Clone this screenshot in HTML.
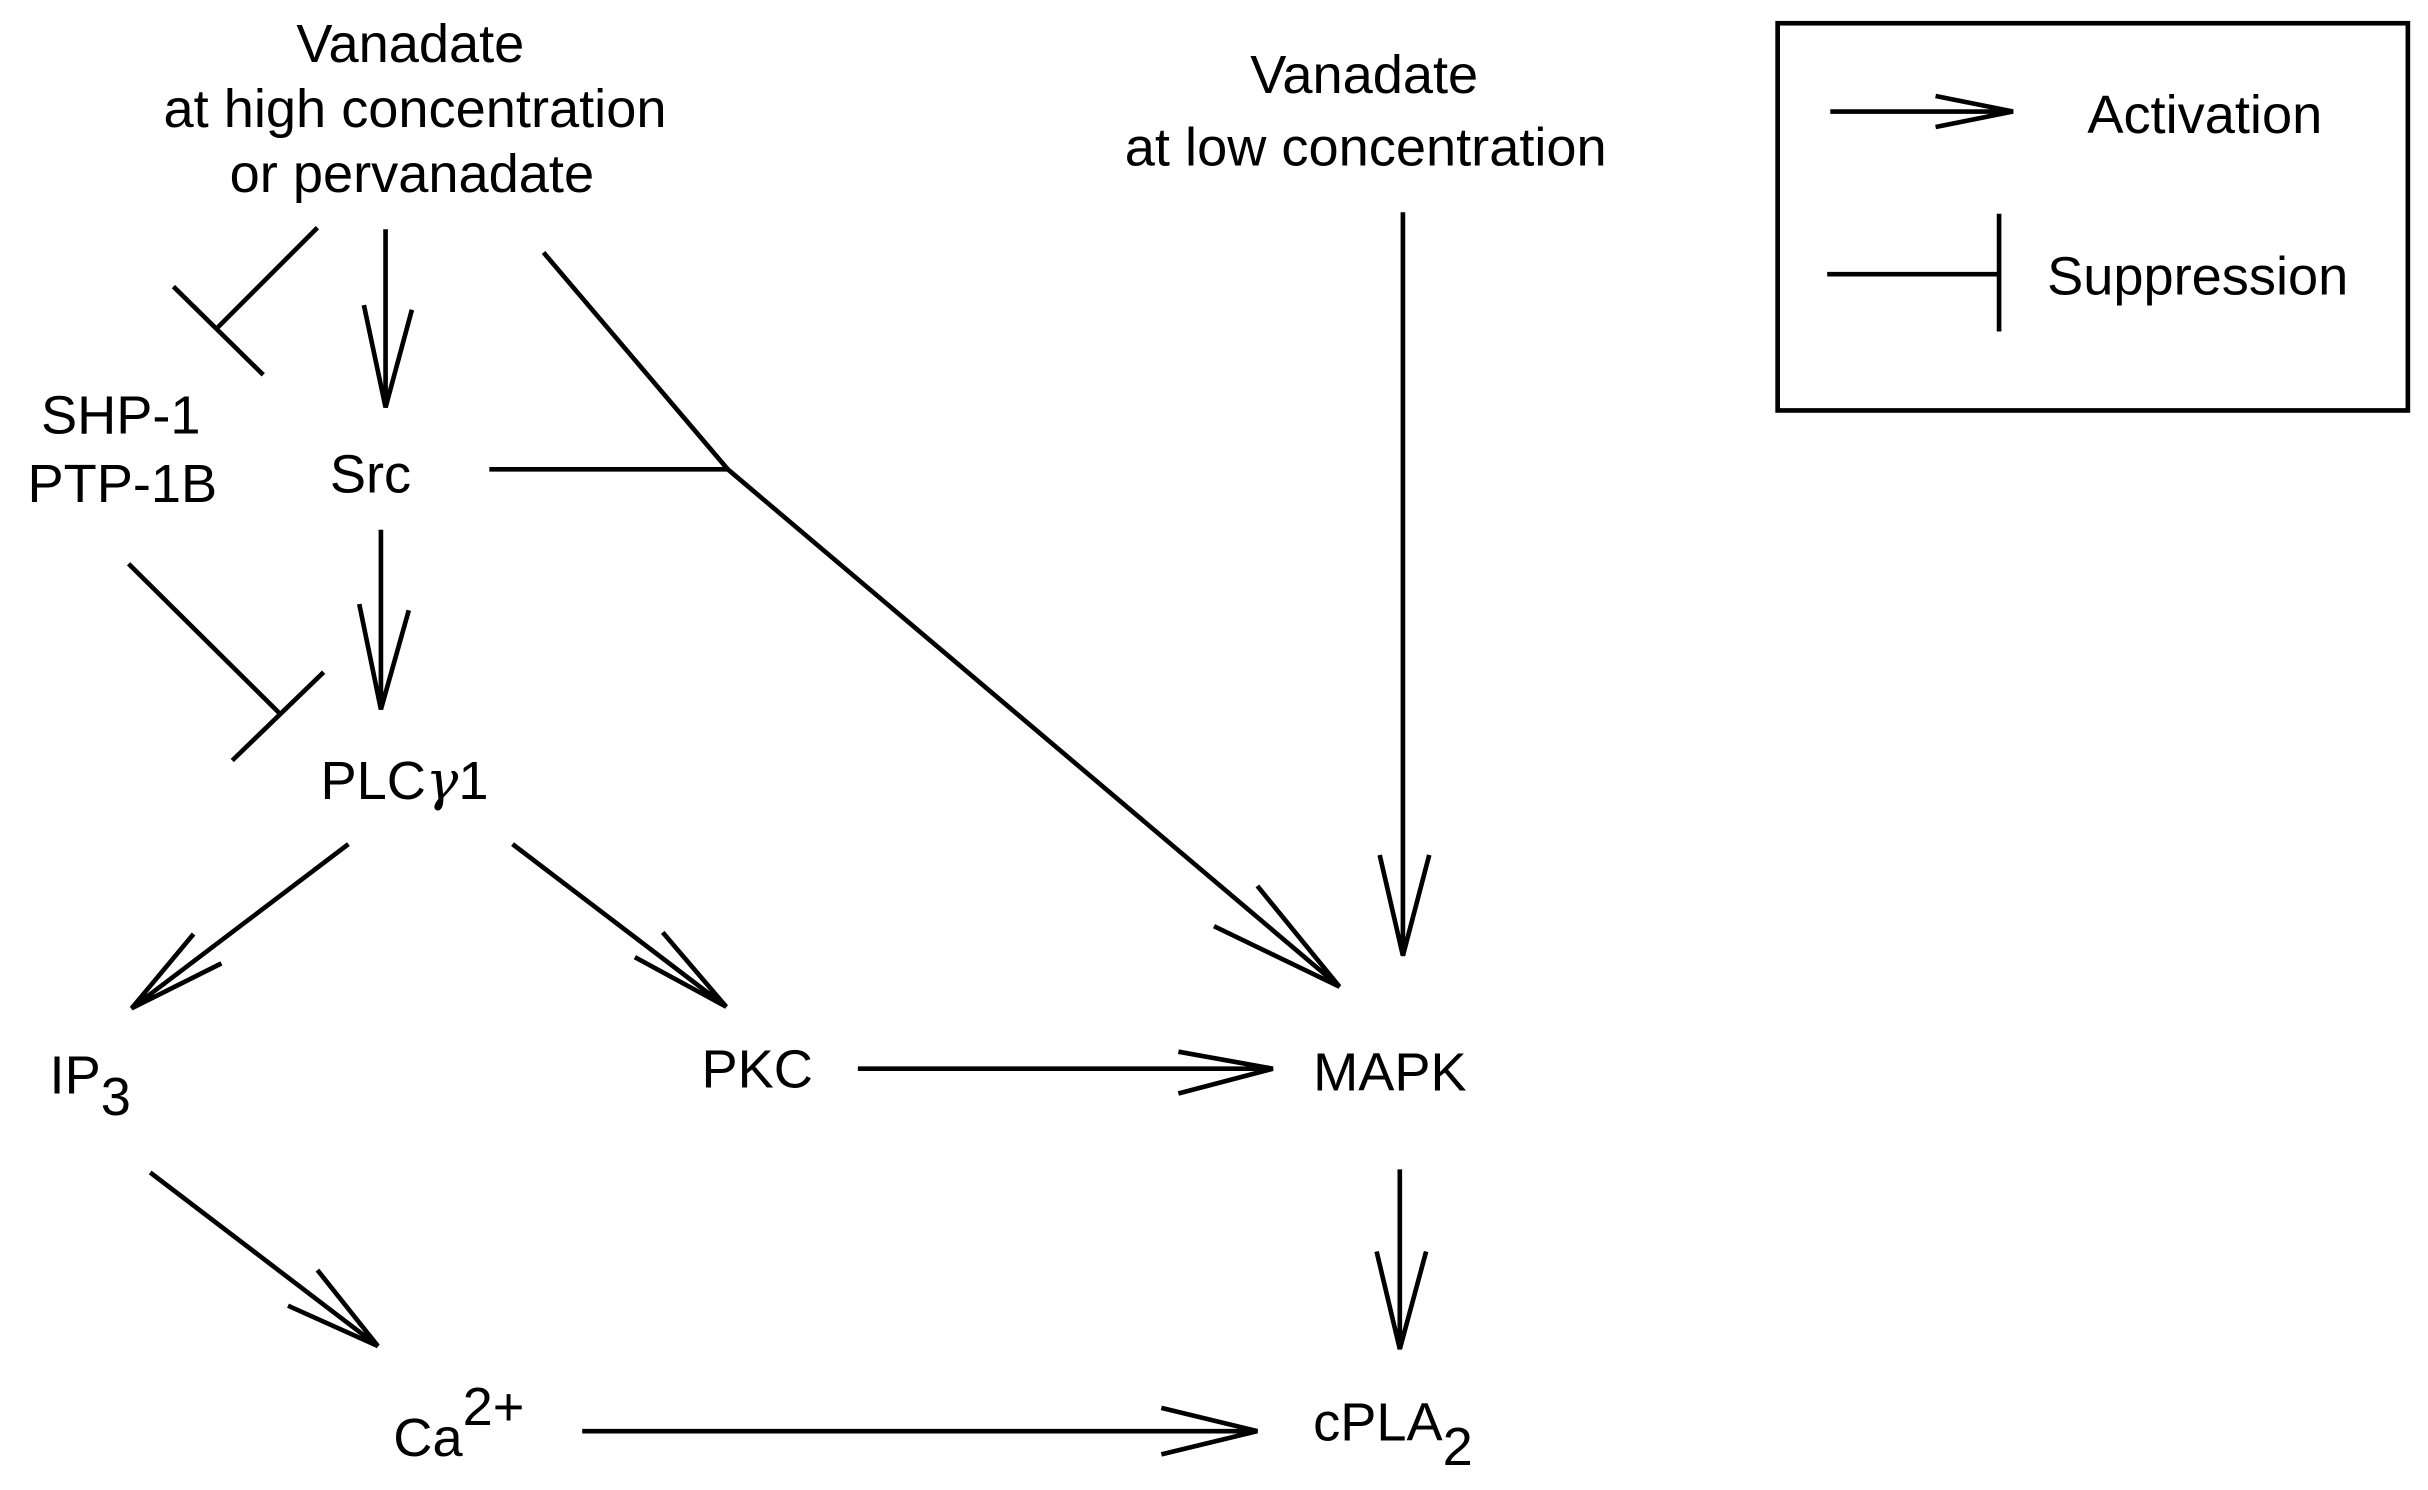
<!DOCTYPE html>
<html><head><meta charset="utf-8"><style>html,body{margin:0;padding:0;background:#fff;}svg{display:block}</style></head>
<body>
<svg width="2428" height="1490" viewBox="0 0 1568 962" preserveAspectRatio="none" xmlns="http://www.w3.org/2000/svg">
<g font-family="Liberation Sans, Arial, sans-serif" font-size="35" fill="#000">
<text x="265" y="40" text-anchor="middle">Vanadate</text>
<text x="268" y="82" text-anchor="middle">at high concentration</text>
<text x="266" y="124" text-anchor="middle">or pervanadate</text>
<text x="881" y="60" text-anchor="middle">Vanadate</text>
<text x="882" y="107" text-anchor="middle">at low concentration</text>
<text x="1348" y="86">Activation</text>
<text x="1322" y="190">Suppression</text>
<text x="78" y="280" text-anchor="middle">SHP-1</text>
<text x="79" y="324" text-anchor="middle">PTP-1B</text>
<text x="213" y="318">Src</text>
<text x="207" y="516">PLC<tspan font-family="DejaVu Serif, serif" font-style="italic">γ</tspan>1</text>
<text x="32" y="706">IP<tspan dy="14">3</tspan></text>
<text x="453" y="702">PKC</text>
<text x="848" y="704">MAPK</text>
<text x="254" y="940">Ca<tspan dy="-20">2+</tspan></text>
<text x="848" y="930">cPLA<tspan dy="16">2</tspan></text>
</g>
<g stroke="#000" stroke-width="3" fill="none" stroke-linecap="butt">
<rect x="1148" y="15" width="407" height="250"/>
<path d="M1182 72H1300M1250 62L1300 72L1250 82"/>
<path d="M1180 177H1291M1291 138V214"/>
<path d="M205 147L140 212M112 185L170 242"/>
<path d="M249 148V263M235 197L249 263L266 200"/>
<path d="M351 163L470 303L865 637M812 572L865 637L784 598"/>
<path d="M316 303H470"/>
<path d="M246 342V458M232 390L246 458L264 394"/>
<path d="M83 364L180 460M209 434L150 491"/>
<path d="M225 545L85 651M125 603L85 651L143 622"/>
<path d="M331 545L469 650M428 602L469 650L410 618"/>
<path d="M906 137V617M891 552L906 617L923 552"/>
<path d="M554 690H822M761 679L822 690L761 706"/>
<path d="M97 757L244 869M205 820L244 869L186 843"/>
<path d="M904 755V871M889 808L904 871L921 808"/>
<path d="M376 924H812M750 909L812 924L750 939"/>
</g>
</svg>
</body></html>
